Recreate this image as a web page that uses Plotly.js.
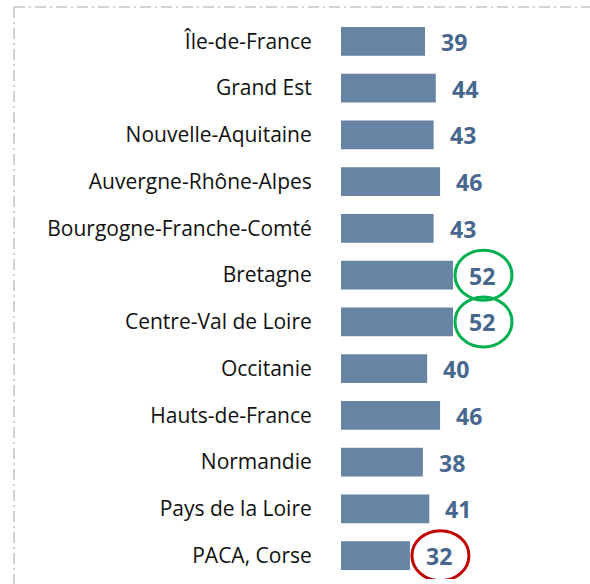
<!DOCTYPE html>
<html><head><meta charset="utf-8">
<script src="https://cdn.plot.ly/plotly-3.0.1.min.js"></script>
<style>html,body{margin:0;padding:0;background:#fff;}#chart{width:590px;height:584px;}</style>
</head><body><div id="chart"></div>
<script>
const regions = ["Île-de-France","Grand Est","Nouvelle-Aquitaine","Auvergne-Rhône-Alpes","Bourgogne-Franche-Comté","Bretagne","Centre-Val de Loire","Occitanie","Hauts-de-France","Normandie","Pays de la Loire","PACA, Corse"];
const values = [39,44,43,46,43,52,52,40,46,38,41,32];
const highlightGreen = ["Bretagne","Centre-Val de Loire"];
const highlightRed = ["PACA, Corse"];

const barColor = "#6784a4";
const textColor = "#47678f";

const annotations = regions.map((r,i)=>({
  x: values[i], y: r, xref:'x', yref:'y', text: '<b>' + values[i] + '</b>',
  showarrow:false, xanchor:'left', yanchor:'middle', xshift:14, yshift:-0.5,
  font:{family:'"Open Sans", "Liberation Sans", sans-serif', size:23, color:textColor}
}));

const shapes = [];
function circleFor(name, color){
  const i = regions.indexOf(name);
  shapes.push({type:'circle', xref:'x', yref:'y', xsizemode:'pixel', ysizemode:'pixel',
    xanchor: values[i], yanchor: i, x0: 2, x1: 59, y0: -25, y1: 25,
    line:{color:color, width:3}});
}
highlightGreen.forEach(n=>circleFor(n,'#00b050'));
highlightRed.forEach(n=>circleFor(n,'#c00000'));

// dash-dot frame
const plotL=341, plotR=590, plotT=18, plotB=579, W=plotR-plotL, H=plotB-plotT;
const px=(x)=>(x-plotL)/W, py=(y)=>(plotB-y)/H;
const frameLine={color:'#c4c4c4', width:1.5, dash:'11px,4px,2px,4px'};
shapes.push({type:'line', xref:'paper', yref:'paper', x0:px(14), x1:px(592), y0:py(7), y1:py(7), line:frameLine});
shapes.push({type:'line', xref:'paper', yref:'paper', x0:px(14), x1:px(14), y0:py(7), y1:py(586), line:frameLine});

const data = [{
  type:'bar', orientation:'h', x: values, y: regions,
  marker:{color:barColor}, hoverinfo:'none'
}];

const layout = {
  width:590, height:584,
  margin:{l:plotL, r:0, t:plotT, b:584-plotB, pad:0},
  paper_bgcolor:'#ffffff', plot_bgcolor:'#ffffff',
  showlegend:false, bargap:0.38,
  xaxis:{range:[0, W/2.154], visible:false, fixedrange:true},
  yaxis:{type:'category', categoryorder:'array', categoryarray:regions, range:[11.5,-0.5],
    showgrid:false, zeroline:false, showline:false,
    ticks:'outside', ticklen:24, tickcolor:'rgba(0,0,0,0)',
    tickfont:{family:'"Open Sans", "Liberation Sans", sans-serif', size:21, color:'#111111'}},
  annotations: annotations,
  shapes: shapes
};
Plotly.newPlot('chart', data, layout, {displayModeBar:false, staticPlot:true});
</script></body></html>
